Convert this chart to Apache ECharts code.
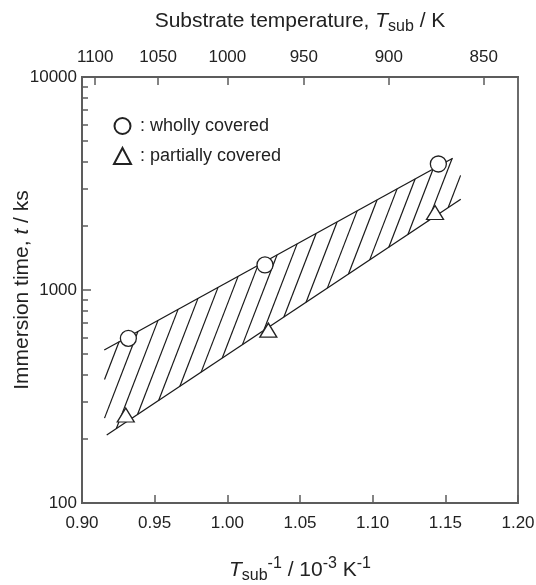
<!DOCTYPE html>
<html><head><meta charset="utf-8">
<script src="https://cdn.jsdelivr.net/npm/echarts@6/dist/echarts.min.js"></script>
<style>html,body{margin:0;padding:0;background:#fff}#c{width:536px;height:585px}</style>
</head><body><div id="c"></div>
<script>
// ---- data ----
const xTickValues = [0.90, 0.95, 1.00, 1.05, 1.10, 1.15, 1.20];
const tempTicks = [1100, 1050, 1000, 950, 900, 850];           // K, top axis
const yMinorTicks = [200,300,400,500,600,700,800,900,2000,3000,4000,5000,6000,7000,8000,9000];

const whollyX = [0.9319, 1.0259, 1.1452];
const whollyY = [593, 1311, 3905];
const partialX = [0.9301, 1.0282, 1.1429];
const partialY = [259, 648, 2311];

const upperX = [0.9153, 1.1551];
const upperY = [523, 4153];
const lowerX = [0.9170, 1.1606];
const lowerY = [208.5, 2666];

// x where each hatch stroke meets the (extended) upper boundary
const hatchX = [0.9255,0.9385,0.9523,0.9661,0.9798,0.9936,1.0074,1.0211,1.0342,1.0480,
                1.0611,1.0755,1.0893,1.1030,1.1168,1.1292,1.1416,1.1546,1.1677];
const hatchSlope = 17.7;        // decades of t per unit of 1/T
const hatchClip = [0.9155, 1.1605];

// ---- build hatch segments ----
const L = Math.log10;
const uS = (L(upperY[1]) - L(upperY[0])) / (upperX[1] - upperX[0]);
const lS = (L(lowerY[1]) - L(lowerY[0])) / (lowerX[1] - lowerX[0]);
const U = x => L(upperY[0]) + uS * (x - upperX[0]);
const hatchSegs = hatchX.map(xu => {
  const Lu = U(xu);
  let xb = (L(lowerY[0]) - lS * lowerX[0] - Lu + hatchSlope * xu) / (hatchSlope - lS);
  if (xb < hatchClip[0]) xb = hatchClip[0];
  const xt = Math.min(xu, hatchClip[1]);
  const f = x => Math.pow(10, Lu + hatchSlope * (x - xu));
  return { coords: [[xb, f(xb)], [xt, f(xt)]] };
});

const FONT = '"Liberation Sans", Arial, Helvetica, sans-serif';
const TXT = '#222';
const AX = '#5c5c5c';
const nameRich = {
  n: { fontSize: 21, fontFamily: FONT, color: TXT, lineHeight: 28 },
  i: { fontSize: 21, fontFamily: FONT, color: TXT, fontStyle: 'italic', lineHeight: 28 },
  sub: { fontSize: 16, fontFamily: FONT, color: TXT, verticalAlign: 'bottom', lineHeight: 16 },
  sup: { fontSize: 16, fontFamily: FONT, color: TXT, verticalAlign: 'top', lineHeight: 16 }
};

const chart = echarts.init(document.getElementById('c'), null, { renderer: 'canvas' });
chart.setOption({
  animation: false,
  backgroundColor: '#fff',
  grid: { left: 82, right: 18, top: 77, bottom: 82, show: true, borderColor: AX, borderWidth: 1.8,
          backgroundColor: 'transparent', containLabel: false, outerBoundsMode: 'none' },
  legend: {
    data: [': wholly covered', ': partially covered'],
    orient: 'vertical', left: 113, top: 117, padding: 0, itemWidth: 17, itemHeight: 16, itemGap: 12,
    textStyle: { fontSize: 18, fontFamily: FONT, color: TXT, padding: [0, 0, 0, 4] },
    selectedMode: false
  },
  xAxis: [{
    type: 'value', position: 'bottom', min: 0.9, max: 1.2, interval: 0.05,
    axisLine: { show: true, lineStyle: { color: AX, width: 1.8 } },
    axisTick: { show: true, inside: true, length: 8, lineStyle: { color: AX, width: 1.5 } },
    axisLabel: { margin: 12, fontSize: 17, fontFamily: FONT, color: TXT, formatter: v => v.toFixed(2) },
    splitLine: { show: false },
    name: '{i|T}{sub|sub}{sup|-1}{n| / 10}{sup|-3}{n| K}{sup|-1}',
    nameLocation: 'middle', nameGap: 53, nameMoveOverlap: false,
    nameTextStyle: { rich: nameRich }
  }, {
    type: 'value', position: 'top', min: 0.9, max: 1.2,
    axisLine: { show: true, lineStyle: { color: AX, width: 1.8 } },
    axisTick: { show: true, inside: true, length: 8, lineStyle: { color: AX, width: 1.5 },
                customValues: tempTicks.map(t => 1000 / t) },
    axisLabel: { margin: 11, fontSize: 17, fontFamily: FONT, color: TXT,
                 customValues: tempTicks.map(t => 1000 / t),
                 formatter: v => String(Math.round(1000 / v)) },
    splitLine: { show: false },
    name: '{n|Substrate temperature, }{i|T}{sub|sub}{n| / K}',
    nameLocation: 'middle', nameGap: 42, nameMoveOverlap: false,
    nameTextStyle: { rich: nameRich }
  }],
  yAxis: [{
    type: 'log', logBase: 10, min: 100, max: 10000, position: 'left',
    axisLine: { show: true, lineStyle: { color: AX, width: 1.8 } },
    axisTick: { show: true, inside: true, length: 9, lineStyle: { color: AX, width: 1.5 } },
    axisLabel: { margin: 5, fontSize: 17, fontFamily: FONT, color: TXT, formatter: v => String(Math.round(v)) },
    splitLine: { show: false }, minorTick: { show: false },
    name: '{n|Immersion time, }{i|t}{n| / ks}',
    nameLocation: 'middle', nameGap: 46, nameMoveOverlap: false,
    nameTextStyle: { rich: nameRich }
  }, {
    type: 'value', min: 2, max: 4, position: 'left', offset: 0,
    axisLine: { show: false },
    axisTick: { show: true, inside: true, length: 6, lineStyle: { color: AX, width: 1.5 },
                customValues: yMinorTicks.map(v => Math.log10(v)) },
    axisLabel: { show: false }, splitLine: { show: false }
  }],
  series: [{
    type: 'lines', coordinateSystem: 'cartesian2d', xAxisIndex: 0, yAxisIndex: 0,
    data: hatchSegs, symbol: 'none', silent: true, z: 2,
    lineStyle: { color: '#1a1a1a', width: 1.2, opacity: 1, curveness: 0 }
  }, {
    type: 'lines', coordinateSystem: 'cartesian2d', xAxisIndex: 0, yAxisIndex: 0,
    data: [{ coords: [[upperX[0], upperY[0]], [upperX[1], upperY[1]]] },
           { coords: [[lowerX[0], lowerY[0]], [lowerX[1], lowerY[1]]] }],
    symbol: 'none', silent: true, z: 2,
    lineStyle: { color: '#1a1a1a', width: 1.3, opacity: 1, curveness: 0 }
  }, {
    name: ': wholly covered', type: 'scatter', xAxisIndex: 0, yAxisIndex: 0, z: 5,
    data: whollyX.map((x, i) => [x, whollyY[i]]),
    symbol: 'circle', symbolSize: 16,
    itemStyle: { color: '#fff', borderColor: '#222', borderWidth: 1.3, opacity: 1 }
  }, {
    name: ': partially covered', type: 'scatter', xAxisIndex: 0, yAxisIndex: 0, z: 5,
    data: partialX.map((x, i) => [x, partialY[i]]),
    symbol: 'triangle', symbolSize: [17, 14],
    itemStyle: { color: '#fff', borderColor: '#222', borderWidth: 1.3, opacity: 1 }
  }]
});
</script></body></html>
